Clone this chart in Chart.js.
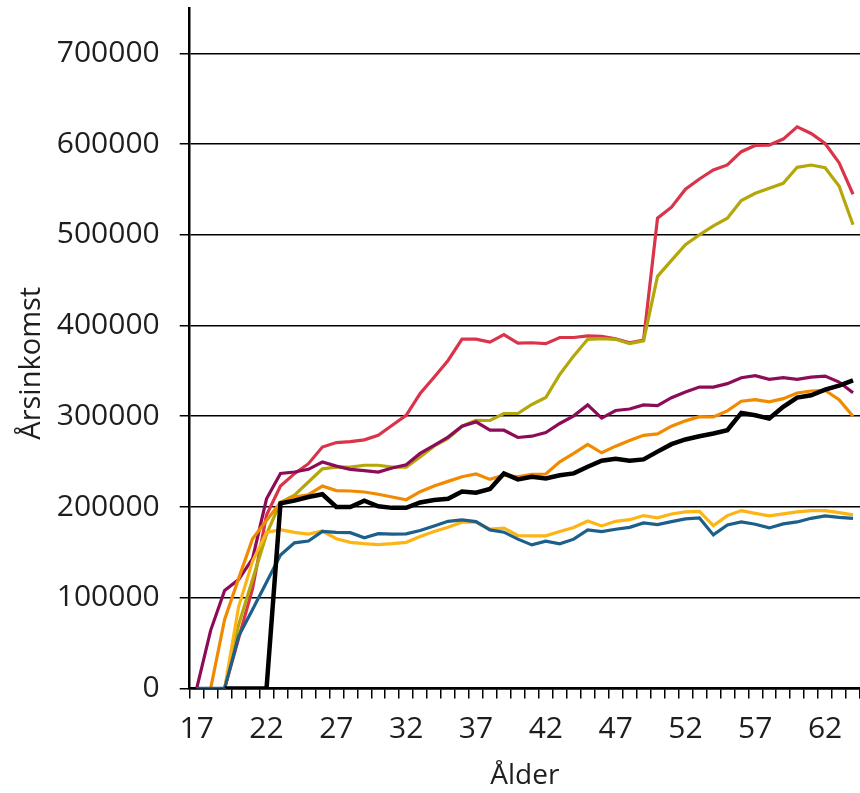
<!DOCTYPE html>
<html>
<head>
<meta charset="utf-8">
<script src="https://cdn.jsdelivr.net/npm/chart.js@4.4.1/dist/chart.umd.min.js"></script>
<style>
  html, body { margin: 0; padding: 0; background: #fff; }
  #wrap { width: 860px; height: 793px; position: relative; }
</style>
</head>
<body>
<div id="wrap"><canvas id="c"></canvas></div>
<script>
const ages = [];
for (let a = 17; a <= 64; a++) ages.push(a);

const yTickValues = [0, 100000, 200000, 300000, 400000, 500000, 600000, 700000];

const seriesBlack = [null, null, 0, 0, 0, 0, 204000, 207000, 211000, 214000, 200000, 200000, 207000, 200700, 199000, 199000,
  205000, 207700, 209000, 217000, 215800, 219800, 237000, 230400, 233300, 231500, 235000, 237000, 244300, 251000, 253100,
  251000, 252400, 261000, 269200, 274400, 278000, 281000, 284600, 303700, 301100, 297400, 310300, 320500, 323100, 329300, 333700, 339600];

const seriesBlue = [0, 0, 0, 57500, 87000, 117000, 147000, 160500, 162500, 173000, 172000, 171700, 166000, 170500, 170000, 170300,
  174000, 179100, 184200, 185700, 183900, 174700, 172200, 164500, 158200, 162300, 159300, 164500, 174700, 172800, 175400,
  177500, 182400, 180600, 183900, 186800, 187900, 169200, 180200, 183500, 181000, 176900, 181300, 183500, 187500, 190100, 188600, 187500];

const seriesYellow = [null, null, 0, 90000, 140000, 172000, 175000, 172000, 170000, 173500, 165000, 161000, 159500, 158500, 159500, 161000,
  167400, 172900, 177700, 183200, 183200, 175500, 176600, 168500, 168100, 168100, 172900, 177300, 184600, 179100, 184200,
  186000, 190500, 188000, 192300, 194500, 195200, 179500, 190500, 196000, 193000, 190100, 192300, 194500, 196000, 196000, 193800, 191200];

const seriesOrange = [null, 0, 76000, 121000, 165000, 185000, 205000, 211000, 213500, 223000, 218000, 217600, 216500, 214000, 211000, 208000,
  216800, 223000, 228200, 233300, 236300, 230400, 235000, 233300, 236000, 236300, 249800, 259000, 268900, 259700, 267000,
  273200, 279000, 280500, 289000, 294900, 299600, 299300, 305900, 316500, 318300, 315800, 319400, 325600, 327800, 328600, 318300, 300000];

const seriesPurple = [0, 64000, 108000, 120000, 143000, 209000, 237000, 238500, 241500, 249600, 245000, 241500, 240000, 238500, 243000, 246600,
  259000, 268000, 277000, 289000, 293800, 284600, 284600, 276600, 278000, 282000, 292000, 300400, 312500, 298000, 306300,
  308000, 312500, 311700, 320500, 326700, 332200, 332200, 335900, 342500, 344700, 340700, 342500, 340700, 343200, 344300, 337700, 326000];

const seriesOlive = [null, null, 0, 70000, 120000, 170000, 205000, 213000, 227500, 242000, 244000, 244000, 246000, 246000, 244000, 244000,
  255000, 267000, 275500, 289000, 295600, 295300, 303000, 303000, 313000, 320700, 346000, 366500, 384800, 385500, 384800,
  380000, 383000, 454200, 471800, 489000, 500000, 509900, 518300, 537700, 545800, 551300, 556800, 574400, 576900, 574000, 553800, 511000];

const seriesRed = [null, null, 0, 55000, 110000, 191000, 223000, 236700, 247700, 266000, 271000, 272000, 274000, 279000, 290000, 301000,
  325000, 343000, 361500, 385000, 385000, 381700, 390000, 380600, 381000, 380000, 386800, 386800, 388600, 388000, 385300,
  381000, 384000, 518300, 530400, 550200, 561500, 571400, 577000, 591600, 598500, 598900, 605500, 619000, 611700, 600700, 579500, 544700];

const FONT = "'Open Sans', 'DejaVu Sans', sans-serif";
const TXT = '#1e1e1e';

function ds(label, data, color, width) {
  return { label, data, borderColor: color, backgroundColor: color, borderWidth: width,
    pointRadius: 0, tension: 0, fill: false, spanGaps: false, borderJoinStyle: 'miter', borderCapStyle: 'butt' };
}

new Chart(document.getElementById('c'), {
  type: 'line',
  data: {
    labels: ages,
    datasets: [
      ds('Svart', seriesBlack, '#000000', 4.5),
      ds('Blå', seriesBlue, '#1c5f8b', 3.2),
      ds('Gul', seriesYellow, '#fdb515', 3.2),
      ds('Orange', seriesOrange, '#f28a00', 3.2),
      ds('Lila', seriesPurple, '#8c0c58', 3.2),
      ds('Oliv', seriesOlive, '#b4a70a', 3.2),
      ds('Röd', seriesRed, '#d9344a', 3.2)
    ]
  },
  options: {
    responsive: true,
    maintainAspectRatio: false,
    animation: false,
    devicePixelRatio: 1,
    layout: { padding: { top: 8, right: 0, bottom: 0, left: 10 } },
    plugins: { legend: { display: false }, tooltip: { enabled: false }, title: { display: false } },
    scales: {
      x: {
        type: 'category',
        offset: true,
        grid: { display: true, offset: true, drawOnChartArea: false, drawTicks: true, tickLength: 10, color: '#000', lineWidth: 1.5 },
        border: { display: true, color: '#000', width: 2.5 },
        afterFit: function (scale) { scale.height -= 9; scale.paddingLeft = 0; scale.paddingRight = 0; },
        ticks: {
          autoSkip: false, maxRotation: 0, minRotation: 0, padding: 13, color: TXT,
          font: { family: FONT, size: 30 },
          callback: function (v, i) { return (ages[i] - 17) % 5 === 0 ? String(ages[i]) : ''; }
        },
        title: { display: true, text: 'Ålder', color: TXT, font: { family: FONT, size: 28 }, padding: { top: 8, bottom: 0 } }
      },
      y: {
        min: 0,
        max: 750000,
        grid: { display: true, color: '#000', lineWidth: 1.5, tickLength: 10, drawTicks: true },
        border: { display: true, color: '#000', width: 2.5 },
        afterBuildTicks: function (scale) { scale.ticks = yTickValues.map(v => ({ value: v })); },
        afterFit: function (scale) { scale.width -= 16; scale.paddingTop = 0; scale.paddingBottom = 0; },
        ticks: {
          padding: 20, color: TXT,
          font: { family: FONT, size: 30 },
          callback: function (v) { return String(v); }
        },
        title: { display: true, text: 'Årsinkomst    ', color: TXT, font: { family: FONT, size: 29 }, padding: { top: 4, bottom: 4 } }
      }
    }
  }
});
</script>
</body>
</html>
